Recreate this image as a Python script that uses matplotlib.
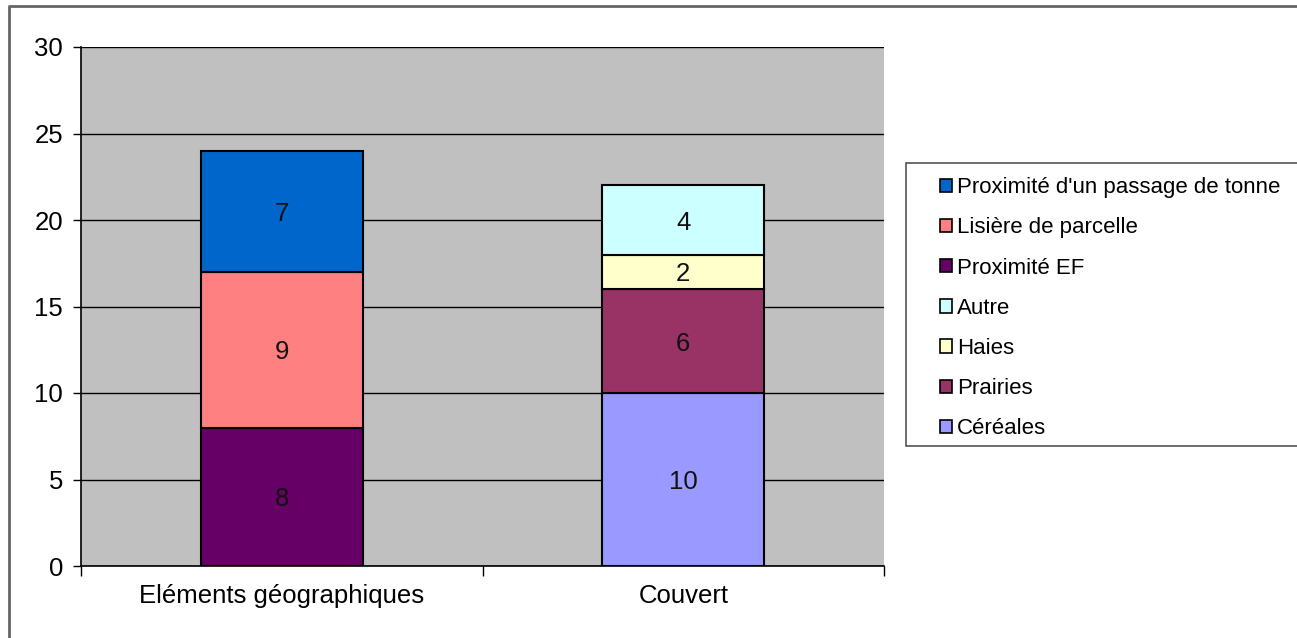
import matplotlib
matplotlib.use("Agg")
import matplotlib.pyplot as plt
from matplotlib.patches import Patch, Rectangle
from matplotlib.lines import Line2D
import numpy as np

plt.rcParams['font.family'] = ['Liberation Sans', 'DejaVu Sans']

categories = ["Eléments géographiques", "Couvert"]

# series in stacking order (bottom to top), values per category
series_names = ["Céréales", "Prairies", "Haies", "Autre",
                "Proximité EF", "Lisière de parcelle",
                "Proximité d'un passage de tonne"]
cereales = [0, 10]
prairies = [0, 6]
haies = [0, 2]
autre = [0, 4]
proximite_ef = [8, 0]
lisiere = [9, 0]
passage_tonne = [7, 0]
series_values = [cereales, prairies, haies, autre,
                 proximite_ef, lisiere, passage_tonne]
series_colors = ["#9999FF", "#993366", "#FFFFCC", "#CCFFFF",
                 "#660066", "#FF8080", "#0066CC"]

y_ticks = [0, 5, 10, 15, 20, 25, 30]

FS = 18.5
FS_LEG = 16
W, H = 1297, 638
fig = plt.figure(figsize=(W / 100, H / 100), dpi=100)
fig.patch.set_facecolor("white")

ax = fig.add_axes([81 / W, 1 - 566 / H, (884 - 81) / W, (566 - 47) / H])
ax.set_facecolor("#C0C0C0")

x = np.arange(len(categories))
bottom = np.zeros(len(categories))
for name, vals, col in zip(series_names, series_values, series_colors):
    vals = np.asarray(vals, dtype=float)
    mask = vals > 0
    ax.bar(x[mask], vals[mask], bottom=bottom[mask], width=0.403,
           color=col, edgecolor="black", linewidth=1.5, zorder=3)
    for xi, v, b in zip(x[mask], vals[mask], bottom[mask]):
        ax.text(xi, b + v / 2, f"{v:g}", ha="center", va="center_baseline",
                fontsize=FS, color="#111111", zorder=4)
    bottom = bottom + vals

ax.set_xlim(-0.5, len(categories) - 0.5)
ax.set_ylim(0, 30)
ax.set_yticks(y_ticks)
ax.set_yticklabels([str(t) for t in y_ticks])
ax.yaxis.grid(True, color="black", linewidth=1.0, zorder=1)
ax.set_axisbelow(True)

# category labels centred, tick marks on the category boundaries
ax.set_xticks(x)
ax.set_xticklabels(categories)
ax.tick_params(axis="x", which="major", length=0, pad=13, labelsize=FS)
ax.set_xticks(np.arange(len(categories) + 1) - 0.5, minor=True)
ax.tick_params(axis="x", which="minor", length=7, width=1, color="black")
ax.tick_params(axis="y", length=6, width=1, pad=7, labelsize=FS)

for side in ["top", "right"]:
    ax.spines[side].set_visible(False)
ax.spines["left"].set_linewidth(1.2)
ax.spines["bottom"].set_linewidth(1.2)

# legend (top of the stack first)
handles = [Patch(facecolor=c, edgecolor="black", linewidth=1.2)
           for c in series_colors[::-1]]
leg = fig.legend(handles, series_names[::-1], loc="upper left",
                 bbox_to_anchor=(929 / W, 1 - 166 / H), frameon=False,
                 fontsize=FS_LEG, handlelength=0.55, handleheight=0.55,
                 handletextpad=0.2, labelspacing=0.865, borderpad=0)

# legend frame
fig.add_artist(Rectangle((906 / W, 1 - 446 / H), (1310 - 906) / W, (446 - 163) / H,
                         transform=fig.transFigure, facecolor="white",
                         edgecolor="#555555", linewidth=1.2, zorder=0))

# outer chart border (top and left edges)
fig.add_artist(Line2D([9 / W, 9 / W, 1.0], [0.0, 1 - 6 / H, 1 - 6 / H],
                      transform=fig.transFigure, color="#666666", linewidth=2))

fig.savefig("out.png", dpi=100)
